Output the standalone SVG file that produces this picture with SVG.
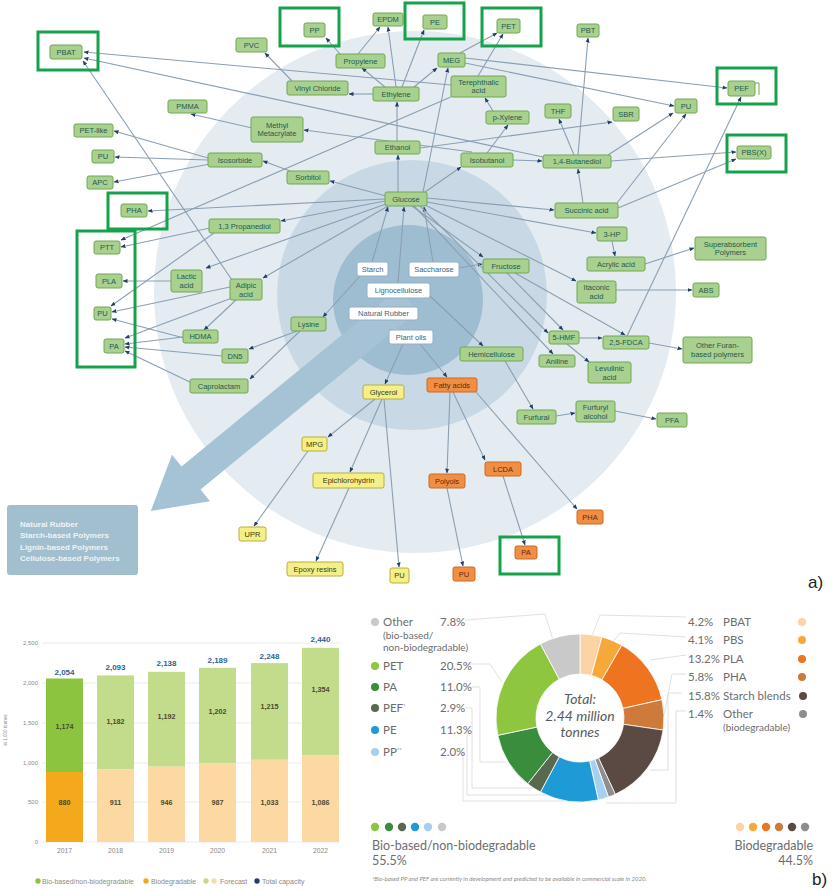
<svg xmlns="http://www.w3.org/2000/svg" width="836" height="891" viewBox="0 0 836 891">
<style>
  .n text{font-family:"Liberation Sans",Arial,sans-serif;font-size:7.5px;text-anchor:middle}
  .g rect{fill:#a9d08e;stroke:#6fa851;stroke-width:1}
  .g text{fill:#1f5a50}
  .w rect{fill:#ffffff;stroke:#8fb0c6;stroke-width:1}
  .w text{fill:#3d5f78}
  .y rect{fill:#f4ef86;stroke:#b8ae3e;stroke-width:1}
  .y text{fill:#3b3a14}
  .o rect{fill:#f28e44;stroke:#c86a27;stroke-width:1}
  .o text{fill:#5c2c0c}
  .hl{fill:none;stroke:#15a24b;stroke-width:3}
  .e line{stroke:#8a9fb3;stroke-width:1.1;marker-end:url(#ah)}
  .ax{font-family:"Liberation Sans",Arial,sans-serif;font-size:6px;fill:#8a8a8a}
  .lg{font-family:"Liberation Sans",Arial,sans-serif;font-size:7px;fill:#8a8a8a}
  .tot{font-family:"Liberation Sans",Arial,sans-serif;font-size:8px;font-weight:bold;fill:#2d5f9e;text-anchor:middle}
  .val{font-family:"Liberation Sans",Arial,sans-serif;font-size:7.2px;font-weight:bold;fill:#4c4a30;text-anchor:middle}
  .pl{font-family:Lato,"Open Sans",sans-serif;font-size:11.5px;fill:#6d6d6d}
  .ps{font-family:Lato,"Open Sans",sans-serif;font-size:10px;fill:#6d6d6d}
  .lead{fill:none;stroke:#d9d9d9;stroke-width:0.8}
  .seg{stroke:#ffffff;stroke-width:0.8}
</style>
<defs>
  <marker id="ah" viewBox="0 0 10 10" refX="9" refY="5" markerWidth="5" markerHeight="5" markerUnits="userSpaceOnUse" orient="auto">
    <path d="M0,1 L10,5 L0,9 z" fill="#1f3f66"/>
  </marker>
</defs>
<rect width="836" height="891" fill="#ffffff"/>

<!-- background rings and lens handle -->
<g id="rings">
  <circle cx="415" cy="292" r="261" fill="#e4ecf2"/>
  <circle cx="412" cy="295" r="135" fill="#c8d9e5"/>
  <circle cx="408" cy="300" r="75" fill="#9fbdd1"/>
  <polygon points="398.5,288.4 181.5,466.4 172,454.8 150.8,511 210,501.2 200.5,489.6 417.5,311.6" fill="#a6c2d5"/>
</g>

<g id="polymer-box">
  <rect x="7" y="505" width="131" height="70" rx="3" fill="#a2bfcf"/>
  <g font-family="Liberation Sans,Arial,sans-serif" font-size="8" font-weight="bold" fill="#eef3f6">
    <text x="20" y="527">Natural Rubber</text>
    <text x="20" y="538">Starch-based Polymers</text>
    <text x="20" y="550">Lignin-based Polymers</text>
    <text x="20" y="561">Cellulose-based Polymers</text>
  </g>
</g>

<!-- connectors -->
<g id="connectors" class="e">
  <line x1="451" y1="85" x2="84" y2="52"/>
  <line x1="543" y1="157" x2="84" y2="58"/>
  <line x1="232" y1="280" x2="83" y2="61"/>
  <line x1="292" y1="81" x2="265" y2="53"/>
  <line x1="340" y1="54" x2="326" y2="38"/>
  <line x1="358" y1="54" x2="380" y2="27"/>
  <line x1="396" y1="87" x2="388" y2="27"/>
  <line x1="402" y1="87" x2="424" y2="30"/>
  <line x1="385" y1="87" x2="362" y2="68"/>
  <line x1="373" y1="94" x2="349" y2="94"/>
  <line x1="414" y1="87" x2="437" y2="68"/>
  <line x1="397" y1="141" x2="397" y2="102"/>
  <line x1="423" y1="192" x2="448" y2="68"/>
  <line x1="460" y1="53" x2="497" y2="33"/>
  <line x1="478" y1="76" x2="503" y2="34"/>
  <line x1="465" y1="58" x2="727" y2="88"/>
  <line x1="465" y1="63" x2="674" y2="106"/>
  <line x1="493" y1="111" x2="485" y2="98"/>
  <line x1="487" y1="153" x2="508" y2="125"/>
  <line x1="513" y1="160" x2="542" y2="161"/>
  <line x1="472" y1="152" x2="304" y2="130"/>
  <line x1="252" y1="128" x2="191" y2="114"/>
  <line x1="578" y1="155" x2="588" y2="38"/>
  <line x1="574" y1="155" x2="559" y2="119"/>
  <line x1="608" y1="155" x2="673" y2="113"/>
  <line x1="611" y1="161" x2="736" y2="152"/>
  <line x1="420" y1="148" x2="612" y2="122"/>
  <line x1="583" y1="203" x2="578" y2="169"/>
  <line x1="617" y1="203" x2="686" y2="114"/>
  <line x1="618" y1="208" x2="736" y2="159"/>
  <line x1="627" y1="336" x2="741" y2="97"/>
  <line x1="398" y1="192" x2="398" y2="155"/>
  <line x1="425" y1="192" x2="461" y2="167"/>
  <line x1="386" y1="196" x2="330" y2="181"/>
  <line x1="290" y1="171" x2="263" y2="161"/>
  <line x1="208" y1="158" x2="114" y2="131"/>
  <line x1="208" y1="160" x2="115" y2="157"/>
  <line x1="210" y1="164" x2="114" y2="182"/>
  <line x1="385" y1="199" x2="148" y2="211"/>
  <line x1="385" y1="201" x2="281" y2="221"/>
  <line x1="386" y1="204" x2="206" y2="268"/>
  <line x1="388" y1="206" x2="263" y2="278"/>
  <line x1="210" y1="228" x2="121" y2="247"/>
  <line x1="453" y1="96" x2="121" y2="240"/>
  <line x1="214" y1="233" x2="111" y2="306"/>
  <line x1="171" y1="281" x2="123" y2="281"/>
  <line x1="230" y1="287" x2="112" y2="312"/>
  <line x1="236" y1="300" x2="204" y2="330"/>
  <line x1="232" y1="298" x2="125" y2="338"/>
  <line x1="184" y1="338" x2="112" y2="319"/>
  <line x1="183" y1="337" x2="125" y2="344"/>
  <line x1="222" y1="356" x2="125" y2="347"/>
  <line x1="192" y1="383" x2="125" y2="351"/>
  <line x1="297" y1="331" x2="249" y2="349"/>
  <line x1="300" y1="331" x2="250" y2="379"/>
  <line x1="360" y1="276" x2="323" y2="317"/>
  <line x1="372" y1="262" x2="388" y2="207"/>
  <line x1="398" y1="283" x2="404" y2="207"/>
  <line x1="433" y1="262" x2="424" y2="207"/>
  <line x1="459" y1="268" x2="482" y2="264"/>
  <line x1="412" y1="206" x2="483" y2="257"/>
  <line x1="427" y1="198" x2="554" y2="210"/>
  <line x1="427" y1="202" x2="596" y2="233"/>
  <line x1="427" y1="206" x2="576" y2="281"/>
  <line x1="420" y1="206" x2="548" y2="333"/>
  <line x1="414" y1="206" x2="553" y2="354"/>
  <line x1="507" y1="273" x2="563" y2="330"/>
  <line x1="515" y1="273" x2="625" y2="335"/>
  <line x1="579" y1="338" x2="602" y2="338"/>
  <line x1="567" y1="344" x2="589" y2="362"/>
  <line x1="649" y1="343" x2="682" y2="349"/>
  <line x1="612" y1="241" x2="615" y2="256"/>
  <line x1="645" y1="264" x2="694" y2="248"/>
  <line x1="616" y1="290" x2="692" y2="290"/>
  <line x1="430" y1="296" x2="483" y2="346"/>
  <line x1="505" y1="361" x2="533" y2="409"/>
  <line x1="556" y1="416" x2="575" y2="413"/>
  <line x1="615" y1="411" x2="656" y2="419"/>
  <line x1="403" y1="344" x2="385" y2="384"/>
  <line x1="420" y1="344" x2="447" y2="377"/>
  <line x1="375" y1="399" x2="328" y2="437"/>
  <line x1="382" y1="399" x2="350" y2="472"/>
  <line x1="384" y1="399" x2="399" y2="567"/>
  <line x1="308" y1="451" x2="254" y2="526"/>
  <line x1="349" y1="488" x2="316" y2="561"/>
  <line x1="450" y1="392" x2="447" y2="473"/>
  <line x1="453" y1="392" x2="485" y2="460"/>
  <line x1="476" y1="392" x2="577" y2="509"/>
  <line x1="447" y1="488" x2="463" y2="566"/>
  <line x1="503" y1="476" x2="525" y2="545"/>
</g>

<!-- nodes: green intermediates and products -->
<g id="n-pbat" class="n g"><rect x="50" y="45" width="32" height="14" rx="2"/><text x="66" y="54.6">PBAT</text></g>
<g id="n-pvc" class="n g"><rect x="236" y="38" width="31" height="14" rx="2"/><text x="251.5" y="47.6">PVC</text></g>
<g id="n-pp" class="n g"><rect x="304" y="23" width="21" height="14" rx="2"/><text x="314.5" y="32.6">PP</text></g>
<g id="n-epdm" class="n g"><rect x="373" y="13" width="30" height="13" rx="2"/><text x="388" y="22.1">EPDM</text></g>
<g id="n-pe" class="n g"><rect x="423" y="15" width="24" height="14" rx="2"/><text x="435" y="24.6">PE</text></g>
<g id="n-pet" class="n g"><rect x="497" y="19" width="23" height="14" rx="2"/><text x="508.5" y="28.6">PET</text></g>
<g id="n-pbt" class="n g"><rect x="577" y="24" width="22" height="13" rx="2"/><text x="588" y="33.1">PBT</text></g>
<g id="n-propylene" class="n g"><rect x="336" y="54" width="49" height="14" rx="2"/><text x="360.5" y="63.6">Propylene</text></g>
<g id="n-meg" class="n g"><rect x="438" y="53" width="27" height="14" rx="2"/><text x="451.5" y="62.6">MEG</text></g>
<g id="n-vinylchloride" class="n g"><rect x="287" y="81" width="61" height="14" rx="2"/><text x="317.5" y="90.6">Vinyl Chloride</text></g>
<g id="n-ethylene" class="n g"><rect x="373" y="87" width="46" height="14" rx="2"/><text x="396" y="96.6">Ethylene</text></g>
<g id="n-terephthalic" class="n g"><rect x="451" y="76" width="55" height="21" rx="2"/><text x="478.5" y="85">Terephthalic</text><text x="478.5" y="93.2">acid</text></g>
<g id="n-pef" class="n g"><rect x="728" y="81" width="27" height="15" rx="2"/><text x="741.5" y="91.1">PEF</text><path d="M755,83 H759 V95" fill="none" stroke="#6fa851" stroke-width="1"/></g>
<g id="n-pmma" class="n g"><rect x="168" y="100" width="39" height="13" rx="2"/><text x="187.5" y="109.1">PMMA</text></g>
<g id="n-pu-r" class="n g"><rect x="675" y="99" width="22" height="14" rx="2"/><text x="686" y="108.6">PU</text></g>
<g id="n-thf" class="n g"><rect x="545" y="104" width="26" height="14" rx="2"/><text x="558" y="113.6">THF</text></g>
<g id="n-sbr" class="n g"><rect x="613" y="107" width="26" height="14" rx="2"/><text x="626" y="116.6">SBR</text></g>
<g id="n-pxylene" class="n g"><rect x="486" y="111" width="43" height="13" rx="2"/><text x="507.5" y="120.1">p-Xylene</text></g>
<g id="n-mma" class="n g"><rect x="251" y="117" width="52" height="25" rx="2"/><text x="277" y="127.5">Methyl</text><text x="277" y="136">Metacrylate</text></g>
<g id="n-petlike" class="n g"><rect x="74" y="124" width="39" height="13" rx="2"/><text x="93.5" y="133.1">PET-like</text></g>
<g id="n-ethanol" class="n g"><rect x="375" y="141" width="45" height="13" rx="2"/><text x="397.5" y="150.1">Ethanol</text></g>
<g id="n-pbsx" class="n g"><rect x="737" y="146" width="34" height="13" rx="2"/><text x="754" y="155.1">PBS(X)</text></g>
<g id="n-pu-l1" class="n g"><rect x="92" y="150" width="22" height="13" rx="2"/><text x="103" y="159.1">PU</text></g>
<g id="n-isosorbide" class="n g"><rect x="208" y="153" width="54" height="14" rx="2"/><text x="235" y="162.6">Isosorbide</text></g>
<g id="n-isobutanol" class="n g"><rect x="461" y="153" width="52" height="14" rx="2"/><text x="487" y="162.6">Isobutanol</text></g>
<g id="n-bdo" class="n g"><rect x="543" y="155" width="68" height="13" rx="2"/><text x="577" y="164.1">1,4-Butanediol</text></g>
<g id="n-sorbitol" class="n g"><rect x="287" y="171" width="42" height="13" rx="2"/><text x="308" y="180.1">Sorbitol</text></g>
<g id="n-apc" class="n g"><rect x="87" y="176" width="26" height="13" rx="2"/><text x="100" y="185.1">APC</text></g>
<g id="n-glucose" class="n g"><rect x="385" y="192" width="42" height="14" rx="2"/><text x="406" y="201.6">Glucose</text></g>
<g id="n-succinic" class="n g"><rect x="555" y="203" width="63" height="15" rx="2"/><text x="586.5" y="213.1">Succinic acid</text></g>
<g id="n-pha-l" class="n g"><rect x="121" y="204" width="26" height="13" rx="2"/><text x="134" y="213.1">PHA</text></g>
<g id="n-pdo" class="n g"><rect x="209" y="219" width="71" height="14" rx="2"/><text x="244.5" y="228.6">1,3 Propanediol</text></g>
<g id="n-3hp" class="n g"><rect x="597" y="227" width="30" height="14" rx="2"/><text x="612" y="236.6">3-HP</text></g>
<g id="n-sap" class="n g"><rect x="695" y="237" width="71" height="23" rx="2"/><text x="730.5" y="246.5">Superabsorbent</text><text x="730.5" y="255">Polymers</text></g>
<g id="n-ptt" class="n g"><rect x="94" y="241" width="26" height="13" rx="2"/><text x="107" y="250.1">PTT</text></g>
<g id="n-acrylic" class="n g"><rect x="587" y="257" width="58" height="14" rx="2"/><text x="616" y="266.6">Acrylic acid</text></g>
<g id="n-fructose" class="n g"><rect x="483" y="259" width="46" height="14" rx="2"/><text x="506" y="268.6">Fructose</text></g>
<g id="n-lactic" class="n g"><rect x="171" y="270" width="31" height="22" rx="2"/><text x="186.5" y="279">Lactic</text><text x="186.5" y="287.5">acid</text></g>
<g id="n-pla" class="n g"><rect x="96" y="274" width="26" height="14" rx="2"/><text x="109" y="283.6">PLA</text></g>
<g id="n-adipic" class="n g"><rect x="230" y="279" width="32" height="21" rx="2"/><text x="246" y="288">Adipic</text><text x="246" y="296.5">acid</text></g>
<g id="n-itaconic" class="n g"><rect x="577" y="281" width="39" height="22" rx="2"/><text x="596.5" y="290">Itaconic</text><text x="596.5" y="298.5">acid</text></g>
<g id="n-abs" class="n g"><rect x="693" y="283" width="26" height="14" rx="2"/><text x="706" y="292.6">ABS</text></g>
<g id="n-pu-l2" class="n g"><rect x="94" y="307" width="17" height="13" rx="2"/><text x="102.5" y="316.1">PU</text></g>
<g id="n-lysine" class="n g"><rect x="291" y="317" width="35" height="14" rx="2"/><text x="308.5" y="326.6">Lysine</text></g>
<g id="n-hdma" class="n g"><rect x="183" y="330" width="35" height="13" rx="2"/><text x="200.5" y="339.1">HDMA</text></g>
<g id="n-hmf" class="n g"><rect x="549" y="331" width="30" height="13" rx="2"/><text x="564" y="340.1">5-HMF</text></g>
<g id="n-fdca" class="n g"><rect x="603" y="336" width="46" height="13" rx="2"/><text x="626" y="345.1">2,5-FDCA</text></g>
<g id="n-furan" class="n g"><rect x="683" y="337" width="69" height="26" rx="2"/><text x="717.5" y="348">Other Furan-</text><text x="717.5" y="357">based polymers</text></g>
<g id="n-pa-l" class="n g"><rect x="104" y="339" width="20" height="14" rx="2"/><text x="114" y="348.6">PA</text></g>
<g id="n-hemicellulose" class="n g"><rect x="460" y="347" width="63" height="14" rx="2"/><text x="491.5" y="356.6">Hemicellulose</text></g>
<g id="n-dn5" class="n g"><rect x="222" y="349" width="26" height="14" rx="2"/><text x="235" y="358.6">DN5</text></g>
<g id="n-aniline" class="n g"><rect x="539" y="355" width="36" height="12" rx="2"/><text x="557" y="363.6">Aniline</text></g>
<g id="n-levulinic" class="n g"><rect x="588" y="362" width="43" height="21" rx="2"/><text x="609.5" y="371">Levulinic</text><text x="609.5" y="379.5">acid</text></g>
<g id="n-caprolactam" class="n g"><rect x="190" y="379" width="58" height="14" rx="2"/><text x="219" y="388.6">Caprolactam</text></g>
<g id="n-furfural" class="n g"><rect x="517" y="410" width="39" height="14" rx="2"/><text x="536.5" y="419.6">Furfural</text></g>
<g id="n-furfuryl" class="n g"><rect x="576" y="401" width="39" height="21" rx="2"/><text x="595.5" y="410">Furfuryl</text><text x="595.5" y="418.5">alcohol</text></g>
<g id="n-pfa" class="n g"><rect x="657" y="413" width="30" height="14" rx="2"/><text x="672" y="422.6">PFA</text></g>

<!-- nodes: feedstocks -->
<g id="n-starch" class="n w"><rect x="357" y="262" width="31" height="14" rx="2"/><text x="372.5" y="271.6">Starch</text></g>
<g id="n-saccharose" class="n w"><rect x="409" y="262" width="50" height="15" rx="2"/><text x="434" y="272.1">Saccharose</text></g>
<g id="n-lignocellulose" class="n w"><rect x="367" y="283" width="63" height="15" rx="2"/><text x="398.5" y="293.1">Lignocellulose</text></g>
<g id="n-rubber" class="n w"><rect x="349" y="307" width="69" height="13" rx="2"/><text x="383.5" y="316.1">Natural Rubber</text></g>
<g id="n-plantoils" class="n w"><rect x="389" y="330" width="44" height="14" rx="2"/><text x="411" y="339.6">Plant oils</text></g>

<!-- nodes: glycerol branch -->
<g id="n-glycerol" class="n y"><rect x="363" y="385" width="41" height="14" rx="2"/><text x="383.5" y="394.6">Glycerol</text></g>
<g id="n-mpg" class="n y"><rect x="302" y="437" width="25" height="14" rx="2"/><text x="314.5" y="446.6">MPG</text></g>
<g id="n-epichlorohydrin" class="n y"><rect x="313" y="473" width="71" height="15" rx="2"/><text x="348.5" y="483.1">Epichlorohydrin</text></g>
<g id="n-upr" class="n y"><rect x="239" y="527" width="27" height="14" rx="2"/><text x="252.5" y="536.6">UPR</text></g>
<g id="n-epoxy" class="n y"><rect x="287" y="562" width="56" height="14" rx="2"/><text x="315" y="571.6">Epoxy resins</text></g>
<g id="n-pu-y" class="n y"><rect x="390" y="568" width="19" height="15" rx="2"/><text x="399.5" y="578.1">PU</text></g>

<!-- nodes: fatty acid branch -->
<g id="n-fattyacids" class="n o"><rect x="427" y="378" width="50" height="14" rx="2"/><text x="452" y="387.6">Fatty acids</text></g>
<g id="n-polyols" class="n o"><rect x="429" y="474" width="36" height="14" rx="2"/><text x="447" y="483.6">Polyols</text></g>
<g id="n-lcda" class="n o"><rect x="485" y="462" width="36" height="14" rx="2"/><text x="503" y="471.6">LCDA</text></g>
<g id="n-pha-o" class="n o"><rect x="577" y="510" width="26" height="14" rx="2"/><text x="590" y="519.6">PHA</text></g>
<g id="n-pa-o" class="n o"><rect x="515" y="546" width="22" height="13" rx="2"/><text x="526" y="555.1">PA</text></g>
<g id="n-pu-o" class="n o"><rect x="453" y="567" width="22" height="14" rx="2"/><text x="464" y="576.6">PU</text></g>

<!-- highlight frames -->
<g id="highlights">
  <rect class="hl" x="38" y="32" width="60" height="38"/>
  <rect class="hl" x="280" y="8" width="59" height="38"/>
  <rect class="hl" x="405" y="3" width="59" height="36"/>
  <rect class="hl" x="482" y="8" width="59" height="38"/>
  <rect class="hl" x="717" y="68" width="59" height="36"/>
  <rect class="hl" x="727" y="135" width="59" height="37"/>
  <rect class="hl" x="108" y="193" width="59" height="36"/>
  <rect class="hl" x="77" y="231" width="58" height="136"/>
  <rect class="hl" x="500" y="537" width="59" height="37"/>
</g>

<text x="808" y="588" font-family="Liberation Sans,Arial,sans-serif" font-size="17" fill="#222">a)</text>

<!-- bar chart: production capacity -->
<g id="bar-chart">
  <g stroke="#e6e6e6" stroke-width="0.8">
    <line x1="42" y1="643" x2="340" y2="643"/>
    <line x1="42" y1="683" x2="340" y2="683"/>
    <line x1="42" y1="723" x2="340" y2="723"/>
    <line x1="42" y1="763" x2="340" y2="763"/>
    <line x1="42" y1="802" x2="340" y2="802"/>
    <line x1="42" y1="842" x2="340" y2="842"/>
  </g>
  <g class="ax" text-anchor="end">
    <text x="38" y="645">2,500</text>
    <text x="38" y="685">2,000</text>
    <text x="38" y="725">1,500</text>
    <text x="38" y="765">1,000</text>
    <text x="38" y="804">500</text>
    <text x="38" y="844">0</text>
  </g>
  <text class="ax" style="font-size:4.5px" text-anchor="middle" transform="translate(7,730) rotate(-90)">in 1,000 tonnes</text>
  <rect x="46" y="678.5" width="37" height="93.5" fill="#8cc43f"/>
  <rect x="46" y="772" width="37" height="70" fill="#f4a81c"/>
  <rect x="97" y="675.4" width="37" height="94.1" fill="#c3dc8b"/>
  <rect x="97" y="769.5" width="37" height="72.5" fill="#fcd9a2"/>
  <rect x="148" y="671.8" width="37" height="94.9" fill="#c3dc8b"/>
  <rect x="148" y="766.7" width="37" height="75.3" fill="#fcd9a2"/>
  <rect x="199" y="667.8" width="37" height="95.6" fill="#c3dc8b"/>
  <rect x="199" y="763.4" width="37" height="78.6" fill="#fcd9a2"/>
  <rect x="251" y="663.1" width="37" height="96.7" fill="#c3dc8b"/>
  <rect x="251" y="759.8" width="37" height="82.2" fill="#fcd9a2"/>
  <rect x="302" y="647.8" width="37" height="107.8" fill="#c3dc8b"/>
  <rect x="302" y="755.6" width="37" height="86.4" fill="#fcd9a2"/>
  <text class="tot" x="64.5" y="675">2,054</text>
  <text class="tot" x="115.5" y="670">2,093</text>
  <text class="tot" x="166.5" y="666">2,138</text>
  <text class="tot" x="217.5" y="663">2,189</text>
  <text class="tot" x="269.5" y="659">2,248</text>
  <text class="tot" x="320.5" y="642">2,440</text>
  <text class="val" x="64.5" y="729">1,174</text>
  <text class="val" x="115.5" y="724">1,182</text>
  <text class="val" x="166.5" y="719">1,192</text>
  <text class="val" x="217.5" y="714">1,202</text>
  <text class="val" x="269.5" y="709">1,215</text>
  <text class="val" x="320.5" y="692">1,354</text>
  <text class="val" x="64.5" y="805">880</text>
  <text class="val" x="115.5" y="805">911</text>
  <text class="val" x="166.5" y="805">946</text>
  <text class="val" x="217.5" y="805">987</text>
  <text class="val" x="269.5" y="805">1,033</text>
  <text class="val" x="320.5" y="805">1,086</text>
  <g class="ax" style="font-size:6.8px" text-anchor="middle">
    <text x="64.5" y="853">2017</text>
    <text x="115.5" y="853">2018</text>
    <text x="166.5" y="853">2019</text>
    <text x="217.5" y="853">2020</text>
    <text x="269.5" y="853">2021</text>
    <text x="320.5" y="853">2022</text>
  </g>
  <circle cx="38" cy="881" r="2.7" fill="#8cc43f"/>
  <text class="lg" x="42" y="883.5">Bio-based/non-biodegradable</text>
  <circle cx="146" cy="881" r="2.7" fill="#f4a81c"/>
  <text class="lg" x="151" y="883.5">Biodegradable</text>
  <circle cx="206" cy="881" r="2.7" fill="#c3dc8b"/>
  <circle cx="214" cy="881" r="2.7" fill="#fcd9a2"/>
  <text class="lg" x="220" y="883.5">Forecast</text>
  <circle cx="257" cy="881" r="2.7" fill="#1d3f73"/>
  <text class="lg" x="262" y="883.5">Total capacity</text>
</g>

<!-- donut chart: market share by material -->
<g id="donut-chart">
  <g class="lead">
    <polyline points="465,620 545,614 553,640"/>
    <polyline points="465,664 490,664 502,682"/>
    <polyline points="465,687 480,687 480,762 506,762"/>
    <polyline points="465,708 472,708 472,788 534,788"/>
    <polyline points="465,730 467,730 467,795 550,795"/>
    <polyline points="465,752 463,752 463,801 596,801"/>
    <polyline points="686,617 600,615 592,636"/>
    <polyline points="686,637 620,633 612,643"/>
    <polyline points="686,655 650,660"/>
    <polyline points="686,674 672,674 664,715"/>
    <polyline points="682,693 668,693 668,770 650,770"/>
    <polyline points="686,711 676,711 676,803 606,803"/>
  </g>
  <path class="seg" fill="#fbd3a4" d="M580,634 A84,84 0 0 1 601.92,636.91 L591.48,675.52 A44,44 0 0 0 580,674 Z"/>
  <path class="seg" fill="#f6a83b" d="M601.92,636.91 A84,84 0 0 1 621.85,645.16 L601.92,679.85 A44,44 0 0 0 591.48,675.52 Z"/>
  <path class="seg" fill="#ee7420" d="M621.85,645.16 A84,84 0 0 1 661.98,699.68 L622.94,708.40 A44,44 0 0 0 601.92,679.85 Z"/>
  <path class="seg" fill="#cd7a3a" d="M661.98,699.68 A84,84 0 0 1 663.13,730.10 L623.54,724.34 A44,44 0 0 0 622.94,708.40 Z"/>
  <path class="seg" fill="#5b4a44" d="M663.13,730.10 A84,84 0 0 1 615.29,794.23 L598.48,757.93 A44,44 0 0 0 623.54,724.34 Z"/>
  <path class="seg" fill="#8e8e8e" d="M615.29,794.23 A84,84 0 0 1 608.45,797.04 L594.90,759.40 A44,44 0 0 0 598.48,757.93 Z"/>
  <path class="seg" fill="#a7d0ee" d="M608.45,797.04 A84,84 0 0 1 598.32,799.98 L589.60,760.94 A44,44 0 0 0 594.90,759.40 Z"/>
  <path class="seg" fill="#1e9bd7" d="M598.32,799.98 A84,84 0 0 1 540.46,792.11 L559.29,756.82 A44,44 0 0 0 589.60,760.94 Z"/>
  <path class="seg" fill="#58694f" d="M540.46,792.11 A84,84 0 0 1 527.68,783.72 L552.60,752.43 A44,44 0 0 0 559.29,756.82 Z"/>
  <path class="seg" fill="#3a8d3c" d="M527.68,783.72 A84,84 0 0 1 497.80,735.30 L536.94,727.06 A44,44 0 0 0 552.60,752.43 Z"/>
  <path class="seg" fill="#8ec63f" d="M497.80,735.30 A84,84 0 0 1 540.46,643.89 L559.29,679.18 A44,44 0 0 0 536.94,727.06 Z"/>
  <path class="seg" fill="#c9c9c9" d="M540.46,643.89 A84,84 0 0 1 580,634 L580,674 A44,44 0 0 0 559.29,679.18 Z"/>
  <g font-family="Lato,Open Sans,sans-serif" font-size="14" font-style="italic" fill="#5a5a5a" text-anchor="middle">
    <text x="580" y="704">Total:</text>
    <text x="580" y="721">2.44 million</text>
    <text x="580" y="737">tonnes</text>
  </g>

  <circle cx="375" cy="622" r="4" fill="#c9c9c9"/>
  <text class="pl" x="383" y="626">Other</text>
  <text class="pl" x="440" y="626">7.8%</text>
  <text class="ps" x="383" y="639">(bio-based/</text>
  <text class="ps" x="383" y="651">non-biodegradable)</text>
  <circle cx="375" cy="666" r="4" fill="#8ec63f"/>
  <text class="pl" x="383" y="670">PET</text>
  <text class="pl" x="440" y="670">20.5%</text>
  <circle cx="375" cy="687" r="4" fill="#3a8d3c"/>
  <text class="pl" x="383" y="691">PA</text>
  <text class="pl" x="440" y="691">11.0%</text>
  <circle cx="375" cy="708" r="4" fill="#58694f"/>
  <text class="pl" x="383" y="712">PEF<tspan font-size="6" dy="-4">*</tspan></text>
  <text class="pl" x="440" y="712">2.9%</text>
  <circle cx="375" cy="730" r="4" fill="#1e9bd7"/>
  <text class="pl" x="383" y="734">PE</text>
  <text class="pl" x="440" y="734">11.3%</text>
  <circle cx="375" cy="752" r="4" fill="#a7d0ee"/>
  <text class="pl" x="383" y="756">PP<tspan font-size="6" dy="-4">**</tspan></text>
  <text class="pl" x="440" y="756">2.0%</text>

  <text class="pl" x="688" y="626">4.2%</text><text class="pl" x="723" y="626">PBAT</text><circle cx="802" cy="622" r="4" fill="#fbd3a4"/>
  <text class="pl" x="688" y="644">4.1%</text><text class="pl" x="723" y="644">PBS</text><circle cx="802" cy="640" r="4" fill="#f6a83b"/>
  <text class="pl" x="688" y="663">13.2%</text><text class="pl" x="723" y="663">PLA</text><circle cx="802" cy="659" r="4" fill="#ee7420"/>
  <text class="pl" x="688" y="681">5.8%</text><text class="pl" x="723" y="681">PHA</text><circle cx="802" cy="677" r="4" fill="#cd7a3a"/>
  <text class="pl" x="688" y="700">15.8%</text><text class="pl" x="723" y="700">Starch blends</text><circle cx="803" cy="696" r="4" fill="#5b4a44"/>
  <text class="pl" x="688" y="718">1.4%</text><text class="pl" x="723" y="718">Other</text><circle cx="803" cy="714" r="4" fill="#8e8e8e"/>
  <text class="ps" x="723" y="731">(biodegradable)</text>

  <circle cx="375" cy="827" r="4.2" fill="#8ec63f"/>
  <circle cx="389" cy="827" r="4.2" fill="#3a8d3c"/>
  <circle cx="402" cy="827" r="4.2" fill="#58694f"/>
  <circle cx="415" cy="827" r="4.2" fill="#1e9bd7"/>
  <circle cx="428" cy="827" r="4.2" fill="#a7d0ee"/>
  <circle cx="442" cy="827" r="4.2" fill="#c9c9c9"/>
  <text class="pl" style="font-size:12.5px" x="372" y="850">Bio-based/non-biodegradable</text>
  <text class="pl" style="font-size:12.5px" x="372" y="865">55.5%</text>

  <circle cx="740" cy="827" r="4.2" fill="#fbd3a4"/>
  <circle cx="753" cy="827" r="4.2" fill="#f6a83b"/>
  <circle cx="766" cy="827" r="4.2" fill="#ee7420"/>
  <circle cx="779" cy="827" r="4.2" fill="#cd7a3a"/>
  <circle cx="792" cy="827" r="4.2" fill="#5b4a44"/>
  <circle cx="805" cy="827" r="4.2" fill="#8e8e8e"/>
  <text class="pl" style="font-size:12.5px" x="813" y="850" text-anchor="end">Biodegradable</text>
  <text class="pl" style="font-size:12.5px" x="813" y="865" text-anchor="end">44.5%</text>

  <text x="372" y="881" font-family="Lato,Open Sans,sans-serif" font-size="6" font-style="italic" fill="#8a8a8a">*Bio-based PP and PEF are currently in development and predicted to be available in commercial scale in 2020.</text>
</g>

<text x="812" y="885" font-family="Liberation Sans,Arial,sans-serif" font-size="17" fill="#222">b)</text>
</svg>
